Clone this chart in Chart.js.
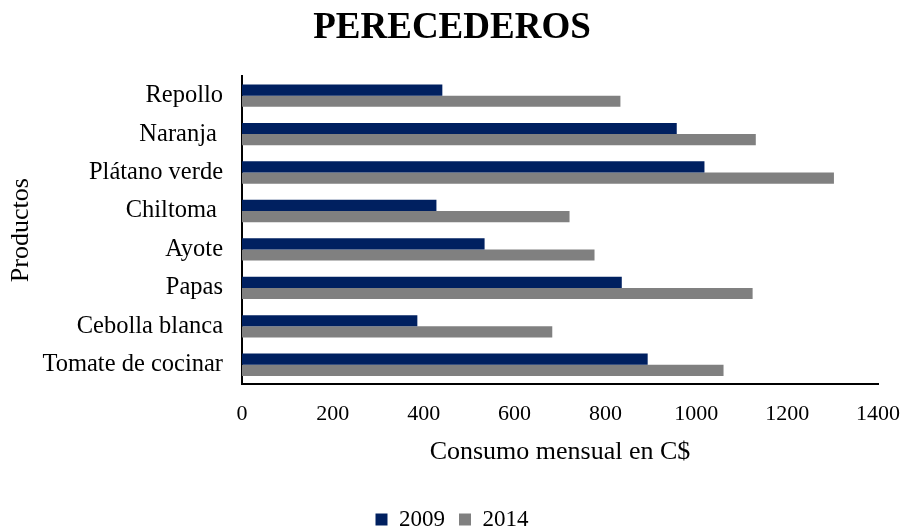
<!DOCTYPE html>
<html lang="es">
<head>
    <meta charset="UTF-8">
    <title>Perecederos</title>
    <script src="https://cdn.jsdelivr.net/npm/chart.js"></script>
    <style>
        body { margin: 0; background: #fff; }
        #wrap { width: 904px; height: 529px; }
    </style>
</head>
<body>
    <div id="wrap"><canvas id="chart" width="904" height="529"></canvas></div>
    <script>
        // data
        const productos = ['Repollo', 'Naranja ', 'Plátano verde', 'Chiltoma ', 'Ayote', 'Papas', 'Cebolla blanca', 'Tomate de cocinar'];
        const consumo2009 = [441, 957, 1018, 428, 534, 836, 386, 893];
        const consumo2014 = [833, 1131, 1303, 721, 776, 1124, 683, 1060];
        const ticksX = [0, 200, 400, 600, 800, 1000, 1200, 1400];

        const serif = '"Liberation Serif", "Times New Roman", serif';
        Chart.defaults.font.family = serif;
        Chart.defaults.color = '#000';

        new Chart(document.getElementById('chart'), {
            type: 'bar',
            data: {
                labels: productos,
                datasets: [
                    { label: '2009', data: consumo2009, backgroundColor: '#002060' },
                    { label: '2014', data: consumo2014, backgroundColor: '#808080' }
                ]
            },
            options: {
                indexAxis: 'y',
                responsive: false,
                animation: false,
                categoryPercentage: 0.58,
                barPercentage: 1,
                layout: { padding: { left: 0, right: 0, top: 2, bottom: -12 } },
                scales: {
                    x: {
                        min: 0, max: 1400,
                        afterBuildTicks: axis => { axis.ticks = ticksX.map(v => ({ value: v })); },
                        afterFit: axis => { axis.height = 110; axis.paddingRight = 26; },
                        grid: { display: false, drawTicks: false },
                        border: { display: true, color: '#000', width: 2 },
                        ticks: { font: { size: 22 }, padding: 17, callback: v => String(v) },
                        title: { display: true, text: 'Consumo mensual en C$', font: { size: 26 }, padding: { top: 0, bottom: 26 } }
                    },
                    y: {
                        afterFit: axis => { axis.width = 242; },
                        grid: { display: false, drawTicks: false },
                        border: { display: true, color: '#000', width: 2 },
                        ticks: { font: { size: 24.5 }, padding: 19 },
                        title: { display: true, text: 'Productos', font: { size: 26 }, padding: { top: 6, bottom: 6 } }
                    }
                },
                plugins: {
                    title: { display: true, text: 'PERECEDEROS', font: { size: 37, weight: 'bold' }, padding: { top: 4, bottom: 26 } },
                    legend: {
                        position: 'bottom',
                        labels: { font: { size: 23 }, boxWidth: 12, boxHeight: 12, padding: 14 }
                    },
                    tooltip: { enabled: false }
                }
            }
        });
    </script>
</body>
</html>
